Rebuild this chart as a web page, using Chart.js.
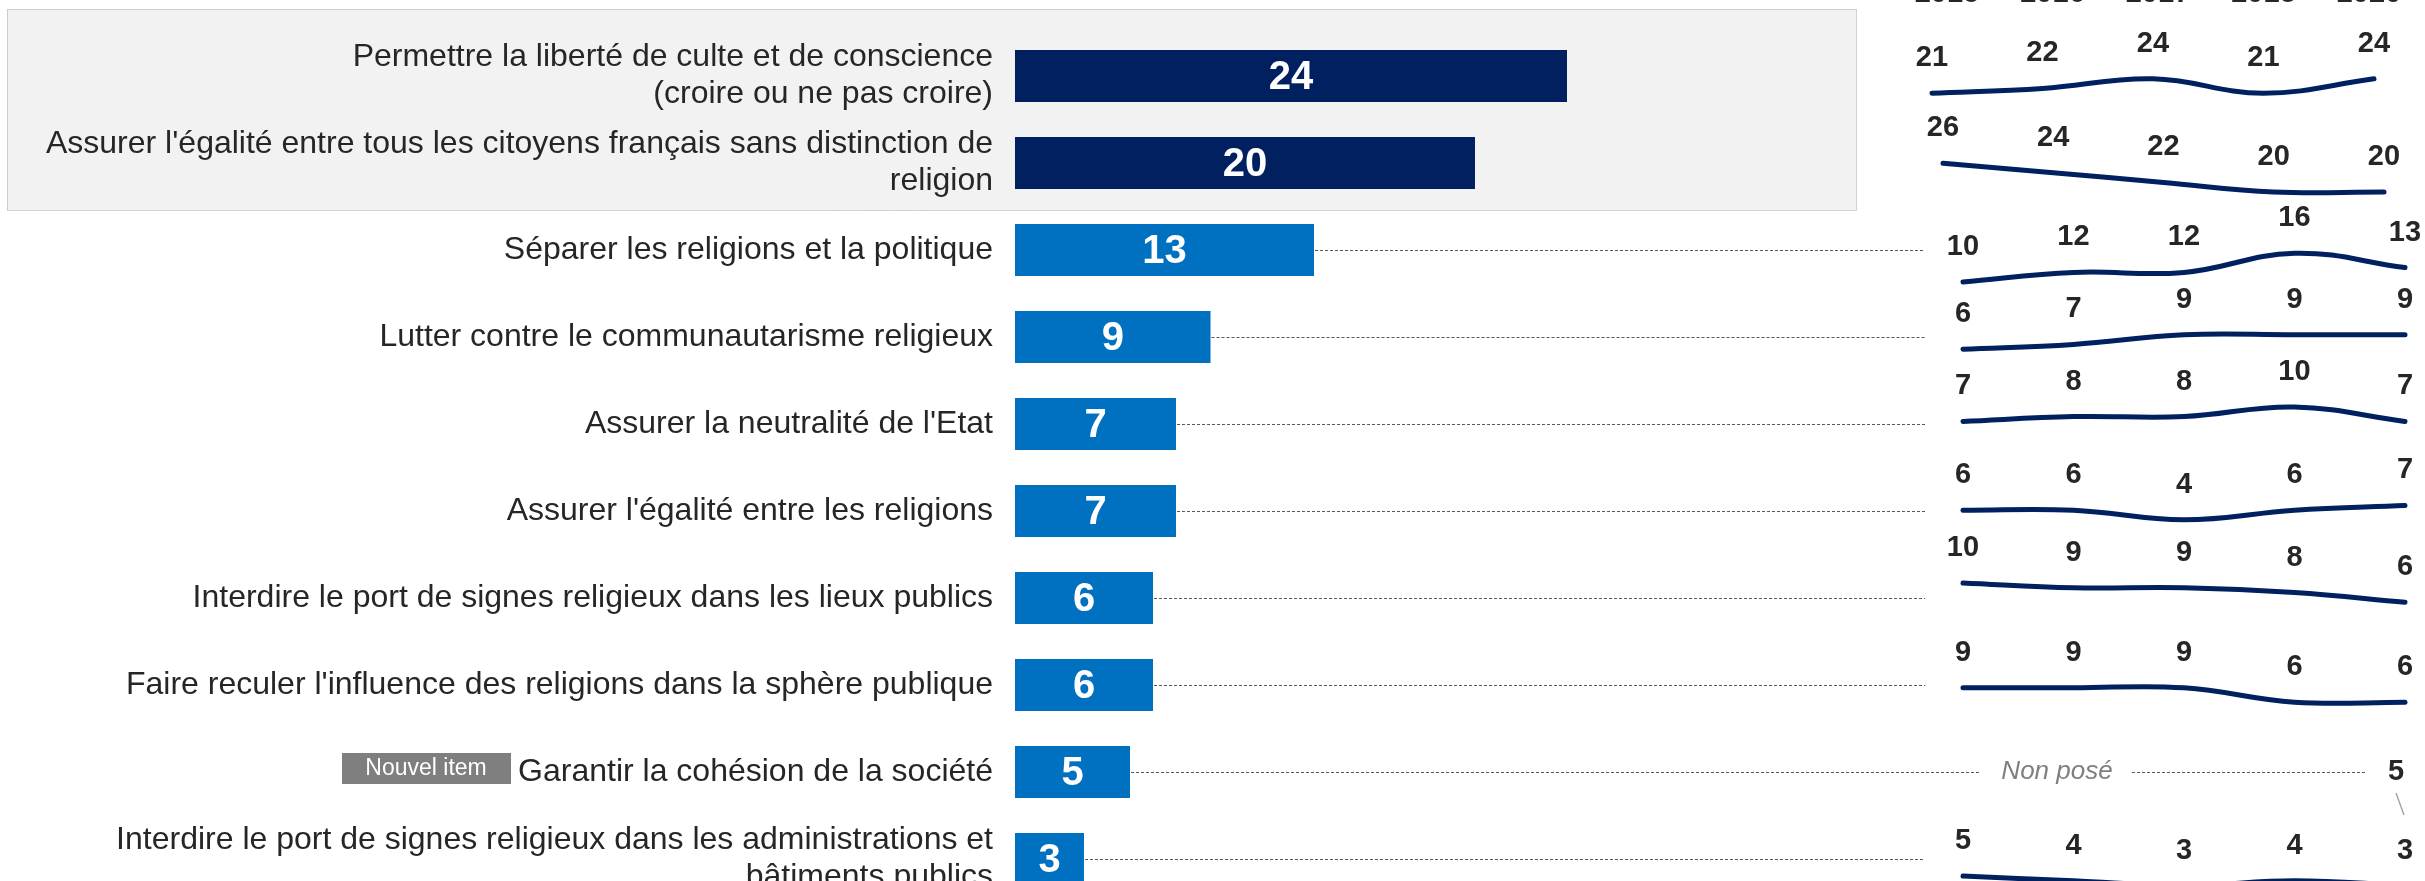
<!DOCTYPE html>
<html>
<head>
<meta charset="utf-8">
<script src="https://cdn.jsdelivr.net/npm/chart.js@4"></script>
<style>
  html, body { margin: 0; padding: 0; background: #fff; overflow: hidden; }
  #wrap { position: relative; width: 2425px; height: 881px; overflow: hidden; }
  canvas { position: absolute; }
</style>
</head>
<body>
<div id="wrap">
  <canvas id="bars" width="2425" height="920" style="left:0;top:0;width:2425px;height:920px"></canvas>
</div>
<script>
const categories = [
    ['Permettre la liberté de culte et de conscience', '(croire ou ne pas croire)'],
    ["Assurer l'égalité entre tous les citoyens français sans distinction de", 'religion'],
    'Séparer les religions et la politique',
    'Lutter contre le communautarisme religieux',
    "Assurer la neutralité de l'Etat",
    "Assurer l'égalité entre les religions",
    'Interdire le port de signes religieux dans les lieux publics',
    "Faire reculer l'influence des religions dans la sphère publique",
    'Garantir la cohésion de la société',
    ['Interdire le port de signes religieux dans les administrations et', 'bâtiments publics']
];
const barValues = [24, 20, 13, 8.5, 7, 7, 6, 6, 5, 3];
const years = ['2015', '2016', '2017', '2018', '2020'];
const trend0 = [21, 22, 24, 21, 24];
const trend1 = [26, 24, 22, 20, 20];
const trend2 = [10, 12, 12, 16, 13];
const trend3 = [6, 7, 9, 9, 9];
const trend4 = [7, 8, 8, 10, 7];
const trend5 = [6, 6, 4, 6, 7];
const trend6 = [10, 9, 9, 8, 6];
const trend7 = [9, 9, 9, 6, 6];
const trend8 = [null, null, null, null, 5];
const trend9 = [5, 4, 3, 4, 3];
const trends = [trend0, trend1, trend2, trend3, trend4, trend5, trend6, trend7, trend8, trend9];
const newItemRow = 8;
const notAskedText = 'Non posé';
const newItemText = 'Nouvel item';

const FONT = "'Liberation Sans', Arial, sans-serif";
const NAVY = '#002060';
const BLUE = '#0070C0';
const TEXT = '#262626';

// placement of each little trend chart: first/last point x, pixel row of value 0
const sparkPlace = [
    { x0: 1932, x1: 2374, zero: 194 },
    { x0: 1943, x1: 2384, zero: 288 },
    { x0: 1963, x1: 2405, zero: 330 },
    { x0: 1963, x1: 2405, zero: 378 },
    { x0: 1963, x1: 2405, zero: 455 },
    { x0: 1963, x1: 2405, zero: 539 },
    { x0: 1963, x1: 2405, zero: 631 },
    { x0: 1963, x1: 2405, zero: 731 },
    { x0: 1963, x1: 2405, zero: 831 },
    { x0: 1963, x1: 2405, zero: 900 }
];
const PX_PER_UNIT = 4.8;
const SPARK_H = 190;

function dashedLine(ctx, xa, xb, y) {
    ctx.save();
    ctx.strokeStyle = '#595959';
    ctx.lineWidth = 1;
    ctx.setLineDash([3, 2]);
    ctx.beginPath();
    ctx.moveTo(xa, y + 0.5);
    ctx.lineTo(xb, y + 0.5);
    ctx.stroke();
    ctx.restore();
}

const boxPlugin = {
    id: 'box',
    beforeDraw(chart) {
        const ctx = chart.ctx;
        ctx.save();
        ctx.fillStyle = '#f2f2f2';
        ctx.fillRect(7, 9, 1849, 201);
        ctx.strokeStyle = '#a6a6a6';
        ctx.lineWidth = 1;
        ctx.setLineDash([1, 1]);
        ctx.strokeRect(7.5, 9.5, 1849, 201);
        ctx.restore();
    }
};

const barExtras = {
    id: 'barExtras',
    afterDatasetsDraw(chart) {
        const ctx = chart.ctx;
        const meta = chart.getDatasetMeta(0);
        meta.data.forEach((bar, i) => {
            const p = bar.getProps(['x', 'y', 'base']);
            // connectors to the trend charts
            if (i >= 2) {
                if (i === newItemRow) {
                    dashedLine(ctx, p.x + 1, 1979, p.y);
                    dashedLine(ctx, 2132, 2367, p.y);
                    ctx.save();
                    ctx.font = 'italic 26px ' + FONT;
                    ctx.fillStyle = '#7f7f7f';
                    ctx.textAlign = 'center';
                    ctx.textBaseline = 'middle';
                    ctx.fillText(notAskedText, 2057, p.y);
                    ctx.restore();
                } else {
                    dashedLine(ctx, p.x + 1, 1925, p.y);
                }
            }
            // value inside the bar
            ctx.save();
            ctx.font = 'bold 40px ' + FONT;
            ctx.fillStyle = '#ffffff';
            ctx.textAlign = 'center';
            ctx.textBaseline = 'middle';
            ctx.fillText(String(Math.round(barValues[i])), (p.x + p.base) / 2, p.y + 2);
            ctx.restore();
        });
        // "Nouvel item" badge
        const yb = meta.data[newItemRow].y;
        ctx.save();
        ctx.fillStyle = '#7f7f7f';
        ctx.fillRect(342, yb - 19, 169, 31);
        ctx.fillStyle = '#ffffff';
        ctx.font = '23px ' + FONT;
        ctx.textAlign = 'center';
        ctx.textBaseline = 'middle';
        ctx.fillText(newItemText, 426, yb - 3);
        ctx.restore();
        // year header (mostly above the visible area)
        ctx.save();
        ctx.font = 'bold 29px ' + FONT;
        ctx.fillStyle = TEXT;
        ctx.textAlign = 'center';
        ctx.textBaseline = 'alphabetic';
        years.forEach((y, k) => ctx.fillText(y, 1947 + k * 105.5, 2));
        ctx.restore();
    }
};

new Chart(document.getElementById('bars').getContext('2d'), {
    type: 'bar',
    data: {
        labels: categories,
        datasets: [{
            data: barValues,
            backgroundColor: c => c.dataIndex < 2 ? NAVY : BLUE,
            barPercentage: 0.6,
            categoryPercentage: 1
        }]
    },
    options: {
        indexAxis: 'y',
        responsive: false,
        animation: false,
        layout: { padding: { top: 32.5, bottom: 17.5, left: 0, right: 260 } },
        plugins: { legend: { display: false }, tooltip: { enabled: false } },
        scales: {
            x: { display: false, min: 0, max: 50 },
            y: {
                afterFit(scale) {
                    scale.width = 1015;
                    scale.paddingTop = 0;
                    scale.paddingBottom = 0;
                },
                grid: { display: false, drawTicks: false },
                border: { display: false },
                ticks: {
                    autoSkip: false,
                    padding: 22,
                    color: TEXT,
                    font: { family: FONT, size: 32, lineHeight: 1.15 }
                }
            }
        }
    },
    plugins: [boxPlugin, barExtras]
});

const sparkLabels = {
    id: 'sparkLabels',
    afterDatasetsDraw(chart) {
        const ctx = chart.ctx;
        const row = chart.options.plugins.sparkLabels.row;
        const meta = chart.getDatasetMeta(0);
        ctx.save();
        ctx.font = 'bold 29px ' + FONT;
        ctx.fillStyle = TEXT;
        ctx.textAlign = 'center';
        ctx.textBaseline = 'middle';
        meta.data.forEach((pt, i) => {
            const v = trends[row][i];
            if (v === null) return;
            let dx = 0;
            if (row === newItemRow) {
                dx = -9;
                ctx.save();
                ctx.strokeStyle = '#a6a6a6';
                ctx.lineWidth = 1.5;
                ctx.beginPath();
                ctx.moveTo(pt.x - 9, pt.y - 14);
                ctx.lineTo(pt.x - 1, pt.y + 8);
                ctx.stroke();
                ctx.restore();
            }
            ctx.fillText(String(v), pt.x + dx, pt.y - 35);
        });
        ctx.restore();
    }
};

trends.forEach((vals, row) => {
    const pl = sparkPlace[row];
    const w = pl.x1 - pl.x0 + 80;
    const cv = document.createElement('canvas');
    cv.width = w;
    cv.height = SPARK_H;
    cv.style.left = (pl.x0 - 40) + 'px';
    cv.style.top = (pl.zero - SPARK_H) + 'px';
    cv.style.width = w + 'px';
    cv.style.height = SPARK_H + 'px';
    document.getElementById('wrap').appendChild(cv);
    new Chart(cv.getContext('2d'), {
        type: 'line',
        data: {
            labels: years,
            datasets: [{
                data: vals,
                borderColor: NAVY,
                borderWidth: 5,
                borderCapStyle: 'round',
                borderJoinStyle: 'round',
                tension: 0.4,
                pointRadius: 0,
                clip: false,
                fill: false
            }]
        },
        options: {
            responsive: false,
            animation: false,
            layout: { padding: { left: 40, right: 40, top: 0, bottom: 0 } },
            plugins: { legend: { display: false }, tooltip: { enabled: false }, sparkLabels: { row: row } },
            scales: {
                x: { display: false, offset: false },
                y: { display: false, min: 0, max: SPARK_H / PX_PER_UNIT }
            }
        },
        plugins: [sparkLabels]
    });
});
</script>
</body>
</html>
